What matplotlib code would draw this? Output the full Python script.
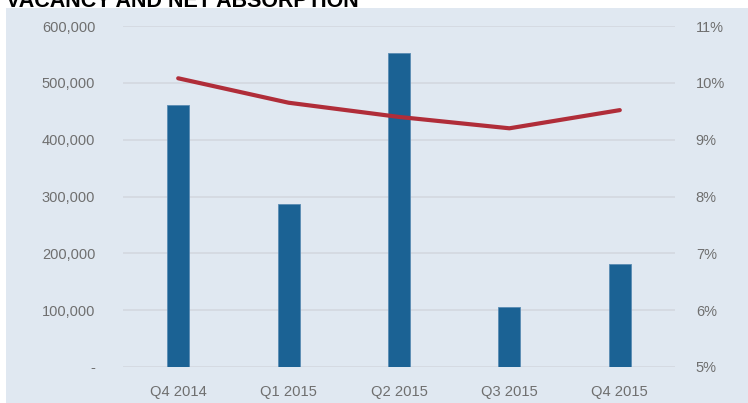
import matplotlib
matplotlib.use("Agg")
from matplotlib import pyplot as plt
from matplotlib.ticker import FuncFormatter, MultipleLocator

QUARTERS = ["Q4 2014", "Q1 2015", "Q2 2015", "Q3 2015", "Q4 2015"]
NET_ABSORPTION = [461000, 286000, 553000, 105000, 182000]
VACANCY_PCT = [10.08, 9.65, 9.40, 9.20, 9.52]

TITLE = "VACANCY AND NET ABSORPTION"

BG = "#e0e8f1"
BAR_COLOR = "#1b6294"
LINE_COLOR = "#b02d39"
GRID_COLOR = "#d3d8df"
TICK_COLOR = "#6f6f6f"
FONT = ["Liberation Sans", "DejaVu Sans"]

W, H = 748, 403
fig = plt.figure(figsize=(W / 100, H / 100), dpi=100)

# light panel behind the chart
fig.patches.append(plt.Rectangle((6 / W, 0), 1, 1 - 8 / H, transform=fig.transFigure,
                                 facecolor=BG, edgecolor="none", zorder=-5))

ax = fig.add_axes([123 / W, 36 / H, (675 - 123) / W, (367 - 26) / H])
ax.set_facecolor("none")
ax2 = ax.twinx()

x = range(len(QUARTERS))
ax.bar(x, NET_ABSORPTION, width=0.2, color=BAR_COLOR, edgecolor="#5a8bb3",
       linewidth=0.6, zorder=3)
ax.set_xlim(-0.5, len(QUARTERS) - 0.5)
ax.set_ylim(0, 600000)
ax.yaxis.set_major_locator(MultipleLocator(100000))
ax.yaxis.set_major_formatter(FuncFormatter(lambda v, p: "-" if v == 0 else f"{v:,.0f}"))
ax.grid(axis="y", color=GRID_COLOR, linewidth=1.2, zorder=0)
ax.set_axisbelow(True)

ax2.plot(x, VACANCY_PCT, color=LINE_COLOR, linewidth=3, solid_capstyle="round", zorder=4)
ax2.set_ylim(5, 11)
ax2.yaxis.set_major_locator(MultipleLocator(1))
ax2.yaxis.set_major_formatter(FuncFormatter(lambda v, p: f"{v:.0f}%"))

for a in (ax, ax2):
    for s in a.spines.values():
        s.set_visible(False)
    a.tick_params(length=0, colors=TICK_COLOR, labelsize=10.5)

ax.tick_params(axis="y", pad=20)
ax2.tick_params(axis="y", pad=15)
ax.set_xticks(list(x))
ax.set_xticklabels(QUARTERS, family=FONT, fontsize=10.6)
ax.tick_params(axis="x", pad=13)
for lbl in ax.get_yticklabels() + ax2.get_yticklabels():
    lbl.set_family(FONT)

fig.text(6 / W, 1 - 7 / H, TITLE, ha="left", va="baseline", fontsize=15.5,
         fontweight="bold", color="black", family=FONT)

fig.savefig("out.png", dpi=100, facecolor="white")
